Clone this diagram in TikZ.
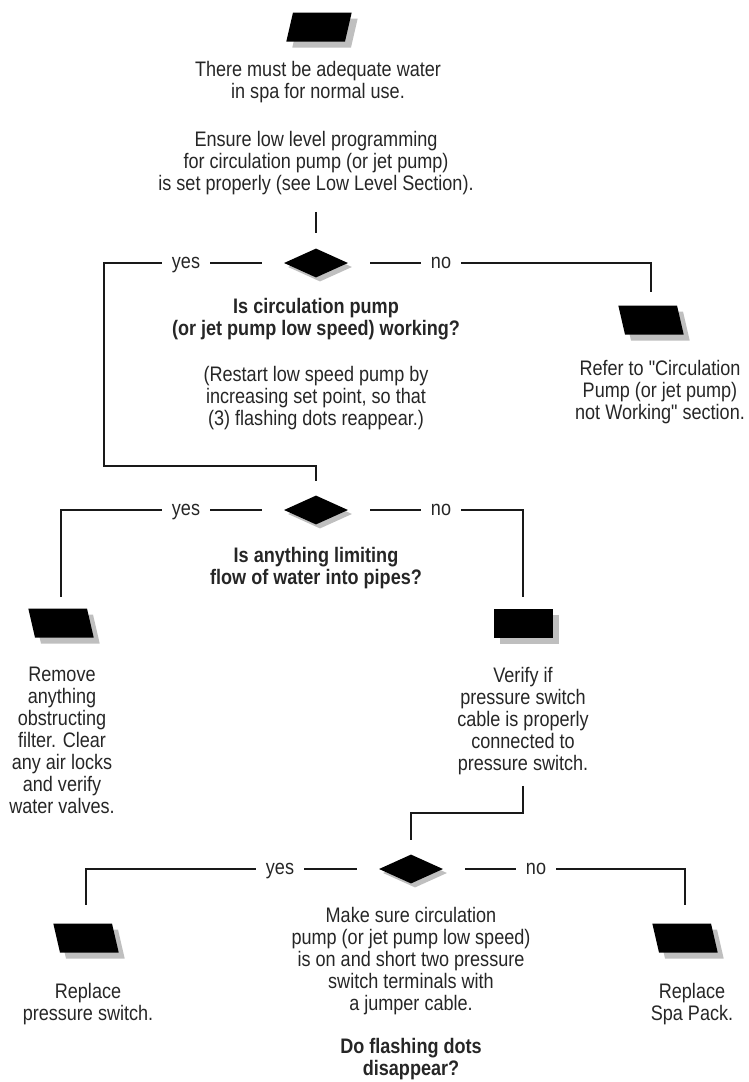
\documentclass[tikz,border=0pt]{standalone}
\usepackage{fontspec}
\setmainfont{Liberation Sans}[FakeStretch=0.86,Ligatures=TeXOff]
\usetikzlibrary{shapes.geometric,shadows}
\tikzset{
  txt/.style={align=center,inner sep=0pt,anchor=north,text=black!85,
    font=\fontsize{21pt}{22pt}\selectfont},
  ask/.style={txt,font=\fontsize{21pt}{22pt}\selectfont\bfseries},
  lbl/.style={inner xsep=10pt,inner ysep=0pt,text height=11pt,text depth=0pt,
    text=black!85,font=\fontsize{21pt}{22pt}\selectfont},
  casts/.style={drop shadow={shadow xshift=6pt,shadow yshift=-6pt,fill=black!25,opacity=1}},
  blk/.style={trapezium,fill=black,inner xsep=26pt,inner ysep=14.5pt,casts},
  lean/.style={blk,trapezium left angle=77,trapezium right angle=103},
  tilt/.style={blk,trapezium left angle=103,trapezium right angle=77},
  box/.style={rectangle,fill=black,inner sep=0pt,minimum width=59pt,minimum height=29pt,casts},
  test/.style={diamond,fill=black,inner sep=0pt,minimum width=64pt,minimum height=29pt,
    drop shadow={shadow xshift=4pt,shadow yshift=-4pt,fill=black!25,opacity=1}},
  conn/.style={draw=black!90,line width=1.1pt},
  tip/.style={conn,shorten <=22pt}
}
\begin{document}
\begin{tikzpicture}[x=1pt,y=-1pt]
  \useasboundingbox (0,0) rectangle (749,1082);
  \node[lean] (start) at (319,27) {};
  \node[txt] (intro) at (318,61) {There must be adequate water\\in spa for normal use.};
  \node[txt] (level) at (316,131) {Ensure low level programming\\for circulation pump (or jet pump)\\is set properly (see Low Level Section).};
  \node[test] (pump) at (316,263) {};
  \node[lbl] (yes1) at (186,263) {yes};
  \node[lbl] (no1) at (441,263) {no};
  \node[ask] (askpump) at (316,298) {Is circulation pump\\(or jet pump low speed) working?};
  \node[txt] (restart) at (316,366) {(Restart low speed pump by\\increasing set point, so that\\(3) flashing dots reappear.)};
  \node[tilt] (pumpblk) at (651,320) {};
  \node[txt] (refer) at (660,360) {Refer to "Circulation\\Pump (or jet pump)\\not Working" section.};
  \coordinate (loop) at (104,466);
  \node[test] (flow) at (316,510) {};
  \node[lbl] (yes2) at (186,510) {yes};
  \node[lbl] (no2) at (441,510) {no};
  \node[ask] (askflow) at (316,547) {Is anything limiting\\flow of water into pipes?};
  \node[tilt] (clearblk) at (61,623) {};
  \node[txt] (clear) at (62,667) {Remove\\anything\\obstructing\\filter. Clear\\any air locks\\and verify\\water valves.};
  \node[box] (cableblk) at (523,623) {};
  \node[txt] (verify) at (523,667) {Verify if\\pressure switch\\cable is properly\\connected to\\pressure switch.};
  \coordinate (jog) at (411,813);
  \node[test] (dots) at (411,869) {};
  \node[lbl] (yes3) at (280,869) {yes};
  \node[lbl] (no3) at (536,869) {no};
  \node[txt] (jumper) at (411,907) {Make sure circulation\\pump (or jet pump low speed)\\is on and short two pressure\\switch terminals with\\a jumper cable.};
  \node[ask] (askdots) at (411,1038) {Do flashing dots\\disappear?};
  \node[tilt] (switchblk) at (86,938) {};
  \node[txt] (switch) at (88,983) {Replace\\pressure switch.};
  \node[tilt] (packblk) at (685,938) {};
  \node[txt] (pack) at (692,983) {Replace\\Spa Pack.};

  \draw[conn,shorten <=17pt,shorten >=15pt] (level.south) -- (pump.north);
  \draw[tip] (pump) -- (yes1);
  \draw[conn,shorten >=14pt] (yes1) -| (loop) -| (flow.north);
  \draw[tip] (pump) -- (no1);
  \draw[conn,shorten >=13pt] (no1) -| (pumpblk.north);
  \draw[tip] (flow) -- (yes2);
  \draw[conn,shorten >=11pt] (yes2) -| (clearblk.north);
  \draw[tip] (flow) -- (no2);
  \draw[conn,shorten >=11pt] (no2) -| (cableblk.north);
  \draw[conn,shorten <=11pt,shorten >=14pt] (verify.south) |- (jog) -- (dots.north);
  \draw[tip] (dots) -- (yes3);
  \draw[conn,shorten >=18pt] (yes3) -| (switchblk.north);
  \draw[tip] (dots) -- (no3);
  \draw[conn,shorten >=18pt] (no3) -| (packblk.north);
\end{tikzpicture}
\end{document}
